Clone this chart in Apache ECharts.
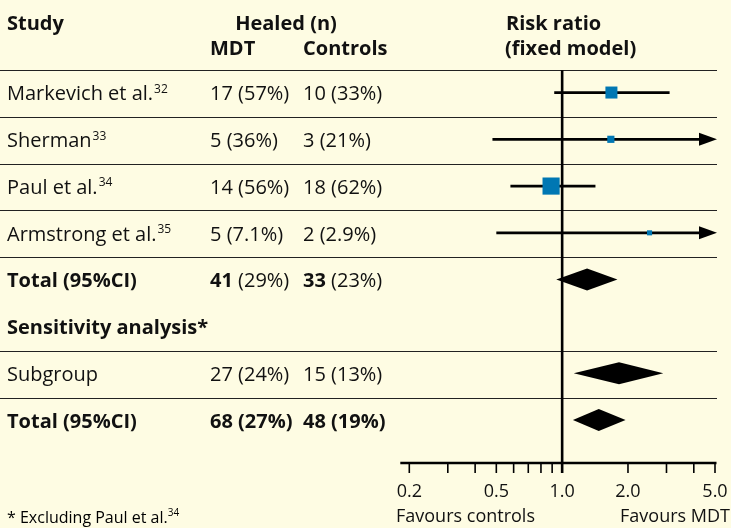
<!DOCTYPE html>
<html>
<head>
<meta charset="utf-8">
<script src="https://cdn.jsdelivr.net/npm/echarts@6/dist/echarts.min.js"></script>
<style>
html,body{margin:0;padding:0;background:#FEFCE3;}
#c{width:731px;height:528px;}
</style>
</head>
<body>
<div id="c"></div>
<script>
// ---------- DATA ----------
const studies   = ['Markevich et al.', 'Sherman', 'Paul et al.', 'Armstrong et al.'];
const refs      = ['32', '33', '34', '35'];
const mdtN      = [17, 5, 14, 5];
const mdtPct    = ['57%', '36%', '56%', '7.1%'];
const ctrlN     = [10, 3, 18, 2];
const ctrlPct   = ['33%', '21%', '62%', '2.9%'];
const rr        = [1.68, 1.67, 0.89, 2.51];
const rrLow     = [0.92, 0.48, 0.58, 0.50];
const rrHigh    = [3.10, 5.80, 1.42, 12.3];
const weights   = [28, 10, 57, 5];

const pooledLabels = ['Total (95%CI)', 'Subgroup', 'Total (95%CI)'];
const pooledMdtN   = [41, 27, 68];
const pooledMdtPct = ['29%', '24%', '27%'];
const pooledCtrlN  = [33, 15, 48];
const pooledCtrlPct= ['23%', '13%', '19%'];
const pooledRR     = [1.30, 1.82, 1.47];
const pooledLow    = [0.94, 1.13, 1.12];
const pooledHigh   = [1.79, 2.90, 1.95];

const tickValues  = [0.2, 0.3, 0.4, 0.5, 0.6, 0.7, 0.8, 0.9, 1, 2, 3, 4, 5];
const labelValues = [0.2, 0.5, 1, 2, 5];
const tickLabels  = ['0.2', '0.5', '1.0', '2.0', '5.0'];

// ---------- LAYOUT ----------
const FONT = '"Open Sans"';
const FS = 20;      // table text
const FA = 18;      // axis text
const studyRows  = [0, 1, 2, 3];
const pooledRows = [4, 6, 7];
const pooledBold = [false, false, true];
const ruleRows   = [-0.5, 0.5, 1.5, 2.5, 3.5, 5.5, 6.5];
const X_STUDY = 7, X_MDT = 210, X_CTRL = 303;
const AXIS_MIN = 0.2, AXIS_MAX = 5;

const chart = echarts.init(document.getElementById('c'), null, {renderer: 'canvas'});

function txt(x, y, text, rich, align) {
  return {
    type: 'text',
    style: {
      x: x, y: y, text: text, rich: rich,
      font: FS + 'px ' + FONT, fill: '#111',
      align: align || 'left', verticalAlign: 'middle'
    }
  };
}
const RICH = {
  n: {fontFamily: FONT, fontSize: FS, fontWeight: 'normal', color: '#111', lineHeight: 24},
  b: {fontFamily: FONT, fontSize: FS, fontWeight: 'bold', color: '#111', lineHeight: 24},
  s: {fontFamily: FONT, fontSize: 12, fontWeight: 'normal', color: '#111', lineHeight: 12, verticalAlign: 'top', padding: [1, 0, 0, 1]}
};

const option = {
  backgroundColor: '#FEFCE3',
  animation: false,
  grid: {left: 409.3, right: 16, top: 0, bottom: 65},
  xAxis: {
    type: 'log', logBase: 10, min: AXIS_MIN, max: AXIS_MAX,
    axisLine: {show: false}, axisTick: {show: false}, axisLabel: {show: false}, splitLine: {show: false}
  },
  yAxis: {
    type: 'value', min: -2, max: 7.9, inverse: true,
    axisLine: {show: false}, axisTick: {show: false}, axisLabel: {show: false}, splitLine: {show: false}
  },
  graphic: [
    {type: 'text', x: 7, y: 518, style: {text: '{n|* Excluding Paul et al.}{s|34}', verticalAlign: 'middle', rich: {
      n: {fontFamily: FONT, fontSize: 16, color: '#111', lineHeight: 20},
      s: {fontFamily: FONT, fontSize: 10, color: '#111', lineHeight: 10, verticalAlign: 'top'}
    }}},
    {type: 'text', x: 396, y: 517, style: {text: 'Favours controls', font: FA + 'px ' + FONT, fill: '#111', verticalAlign: 'middle'}},
    {type: 'text', x: 730, y: 517, style: {text: 'Favours MDT', font: FA + 'px ' + FONT, fill: '#111', align: 'right', verticalAlign: 'middle'}}
  ],
  series: [
    // horizontal rules
    {
      type: 'custom', clip: false, silent: true,
      data: ruleRows.map(r => [1, r]),
      renderItem: function (params, api) {
        const y = Math.round(api.coord([1, api.value(1)])[1]) + 0.5;
        return {type: 'line', shape: {x1: 0, y1: y, x2: 717, y2: y}, style: {stroke: '#222', lineWidth: 1.1}};
      }
    },
    // table header
    {
      type: 'custom', clip: false, silent: true,
      data: [[1, -1.47]],
      renderItem: function (params, api) {
        const y1 = api.coord([1, -1.47])[1];
        const y2 = api.coord([1, -0.95])[1];
        const bfont = 'bold ' + FS + 'px ' + FONT;
        const mk = (x, y, t, al) => ({type: 'text', style: {x: x, y: y, text: t, font: bfont, fill: '#111', align: al || 'left', verticalAlign: 'middle'}});
        return {type: 'group', children: [
          mk(X_STUDY, y1, 'Study'),
          mk(286, y1, 'Healed (n)', 'center'),
          mk(X_MDT, y2, 'MDT'),
          mk(X_CTRL, y2, 'Controls'),
          mk(506, y1, 'Risk ratio'),
          mk(505, y2, '(fixed model)')
        ]};
      }
    },
    // study rows text
    {
      type: 'custom', clip: false, silent: true,
      data: studyRows.map((r, i) => [rr[i], r]),
      renderItem: function (params, api) {
        const i = params.dataIndex;
        const y = api.coord([1, api.value(1)])[1] + 1;
        return {type: 'group', children: [
          txt(X_STUDY, y, '{n|' + studies[i] + '}{s|' + refs[i] + '}', RICH),
          txt(X_MDT, y, '{n|' + mdtN[i] + ' (' + mdtPct[i] + ')}', RICH),
          txt(X_CTRL, y, '{n|' + ctrlN[i] + ' (' + ctrlPct[i] + ')}', RICH)
        ]};
      }
    },
    // pooled rows text
    {
      type: 'custom', clip: false, silent: true,
      data: pooledRows.map((r, i) => [pooledRR[i], r]),
      renderItem: function (params, api) {
        const i = params.dataIndex;
        const y = api.coord([1, api.value(1)])[1] + 1;
        const allBold = pooledBold[i];
        const lab = i === 1 ? '{n|' + pooledLabels[i] + '}' : '{b|' + pooledLabels[i] + '}';
        const pst = allBold ? 'b' : 'n';
        const children = [
          txt(X_STUDY, y, lab, RICH),
          txt(X_MDT, y, (i === 1 ? '{n|' : '{b|') + pooledMdtN[i] + '}{' + pst + '| (' + pooledMdtPct[i] + ')}', RICH),
          txt(X_CTRL, y, (i === 1 ? '{n|' : '{b|') + pooledCtrlN[i] + '}{' + pst + '| (' + pooledCtrlPct[i] + ')}', RICH)
        ];
        if (i === 0) {
          const ys = api.coord([1, 5])[1] + 1;
          children.push(txt(X_STUDY, ys, '{b|Sensitivity analysis*}', RICH));
        }
        return {type: 'group', children: children};
      }
    },
    // vertical line of no effect + axis line + ticks + labels
    {
      type: 'custom', clip: false, silent: true,
      data: [[1, 7.9]],
      renderItem: function (params, api) {
        const top = api.coord([1, -0.5])[1];
        const axisY = api.coord([1, 7.9])[1];
        const x1 = api.coord([1, 0])[0];
        const x0 = api.coord([AXIS_MIN, 0])[0];
        const xMax = api.coord([AXIS_MAX, 0])[0];
        const children = [
          {type: 'line', shape: {x1: x1, y1: top, x2: x1, y2: axisY + 10}, style: {stroke: '#000', lineWidth: 2.6}},
          {type: 'line', shape: {x1: x0 - 9, y1: axisY, x2: xMax + 1.5, y2: axisY}, style: {stroke: '#000', lineWidth: 2.6}}
        ];
        tickValues.forEach(v => {
          const x = api.coord([v, 0])[0];
          children.push({type: 'line', shape: {x1: x, y1: axisY, x2: x, y2: axisY + 10}, style: {stroke: '#000', lineWidth: 1.6}});
        });
        labelValues.forEach((v, k) => {
          const x = api.coord([v, 0])[0];
          children.push({type: 'text', style: {x: x, y: axisY + 29, text: tickLabels[k], font: FA + 'px ' + FONT, fill: '#111', align: 'center', verticalAlign: 'middle'}});
        });
        return {type: 'group', children: children};
      }
    },
    // CI lines
    {
      type: 'custom', clip: false, silent: true,
      data: studyRows.map((r, i) => [rrLow[i], rrHigh[i], r]),
      encode: {x: [0, 1], y: 2},
      renderItem: function (params, api) {
        const lo = api.value(0), hi = api.value(1), row = api.value(2);
        const p0 = api.coord([lo, row]);
        const capped = hi > AXIS_MAX;
        const p1 = api.coord([capped ? AXIS_MAX : hi, row]);
        const y = p0[1] - 1;
        const ch = [{type: 'line', shape: {x1: p0[0], y1: y, x2: capped ? p1[0] - 12 : p1[0], y2: y}, style: {stroke: '#000', lineWidth: 2.8}}];
        if (capped) {
          const tip = p1[0] + 2;
          ch.push({type: 'polygon', shape: {points: [[tip - 18, y - 6.5], [tip, y], [tip - 18, y + 6.5]]}, style: {fill: '#000'}});
        }
        return {type: 'group', children: ch};
      }
    },
    // squares
    {
      type: 'custom', clip: false, silent: true,
      data: studyRows.map((r, i) => [rr[i], r, weights[i]]),
      renderItem: function (params, api) {
        const p = api.coord([api.value(0), api.value(1)]);
        const s = 2.27 * Math.sqrt(api.value(2));
        return {type: 'rect', shape: {x: p[0] - s / 2, y: p[1] - 1 - s / 2, width: s, height: s}, style: {fill: '#0077B3'}};
      }
    },
    // diamonds
    {
      type: 'custom', clip: false, silent: true,
      data: pooledRows.map((r, i) => [pooledLow[i], pooledRR[i], pooledHigh[i], r]),
      renderItem: function (params, api) {
        const row = api.value(3);
        const a = api.coord([api.value(0), row]);
        const m = api.coord([api.value(1), row]);
        const b = api.coord([api.value(2), row]);
        const h = 11;
        const y = m[1] - 1;
        return {type: 'polygon', shape: {points: [[a[0], y], [m[0], y - h], [b[0], y], [m[0], y + h]]}, style: {fill: '#000'}};
      }
    }
  ]
};
chart.setOption(option);
</script>
</body>
</html>
